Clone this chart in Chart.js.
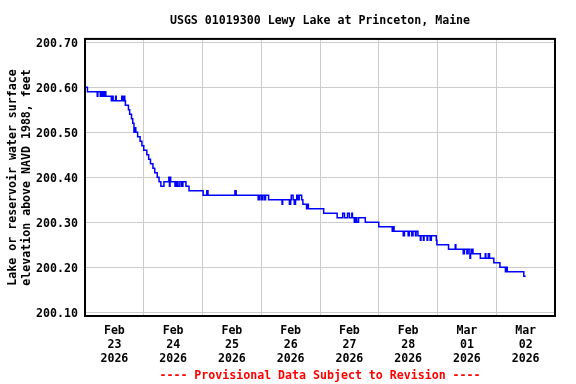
<!DOCTYPE html>
<html>
<head>
<meta charset="utf-8">
<script src="https://cdn.jsdelivr.net/npm/chart.js@4.4.1/dist/chart.umd.min.js"></script>
<style>
  html, body { margin: 0; padding: 0; background: #fff; }
  #wrap { width: 576px; height: 384px; }
</style>
</head>
<body>
<div id="wrap"><canvas id="lakeChart" width="576" height="384"></canvas></div>
<script>
// hours since Feb 23 2026 00:00, and lake level (feet, NAVD 1988)
const hours = [
  0, 1, 5, 5.25, 6.25, 6.5, 7, 7.25, 7.5, 7.75, 8, 8.25, 8.5, 10.75, 11.25, 11.5, 12.5, 12.75,
  15, 15.5, 15.75, 16.25, 16.5, 17.75, 18.25, 19, 19.5, 20, 20.5, 20.75, 21.5, 22.5, 23.25, 24,
  25.25, 26, 26.75, 27.75, 28.5, 29.5, 30.25, 31, 32.25, 34.25, 34.5, 34.75, 35, 36.75, 37, 37.5,
  37.75, 38, 38.75, 39.5, 40, 41.25, 42.5, 48.25, 49.75, 50.25, 61.25, 61.75, 70.75, 71.25, 72,
  72.5, 73.25, 73.75, 75, 80.5, 80.75, 83.5, 84, 84.25, 85, 85.5, 86, 86.5, 87, 87.5, 88.5, 89,
  90.5, 91, 91.25, 97.5, 103, 105.25, 106, 107.25, 108, 109, 109.25, 110, 110.5, 111, 111.75,
  114.5, 120, 125.5, 126, 126.25, 130, 130.5, 132, 132.5, 133.5, 134, 135, 135.25, 136, 137,
  137.25, 138.25, 138.5, 139.75, 140, 141, 141.5, 143.5, 143.75, 148.5, 151.25, 151.5, 154.5,
  155, 156, 156.5, 157.25, 157.5, 158, 158.5, 161.5, 163.5, 163.75, 164.75, 165.25, 167, 169.5,
  171.75, 172, 172.5, 179.25, 180
];
const levels = [
  200.60, 200.59, 200.58, 200.59, 200.58, 200.59, 200.58, 200.59, 200.58, 200.59, 200.58, 200.59, 200.58, 200.57, 200.58, 200.57, 200.58, 200.57,
  200.58, 200.57, 200.58, 200.57, 200.56, 200.55, 200.54, 200.53, 200.52, 200.50, 200.51, 200.50, 200.49, 200.48, 200.47, 200.46,
  200.45, 200.44, 200.43, 200.42, 200.41, 200.40, 200.39, 200.38, 200.39, 200.40, 200.38, 200.40, 200.39, 200.38, 200.39, 200.38,
  200.39, 200.38, 200.39, 200.38, 200.39, 200.38, 200.37, 200.36, 200.37, 200.36, 200.37, 200.36, 200.35, 200.36, 200.35,
  200.36, 200.35, 200.36, 200.35, 200.34, 200.35, 200.34, 200.35, 200.36, 200.35, 200.34, 200.35, 200.36, 200.35, 200.36, 200.35, 200.34,
  200.33, 200.34, 200.33, 200.32, 200.31, 200.32, 200.31, 200.32, 200.31, 200.32, 200.31, 200.30, 200.31, 200.30, 200.31,
  200.30, 200.29, 200.28, 200.29, 200.28, 200.27, 200.28, 200.27, 200.28, 200.27, 200.28, 200.27, 200.28, 200.27, 200.26,
  200.27, 200.26, 200.27, 200.26, 200.27, 200.26, 200.27, 200.26, 200.25, 200.24, 200.25, 200.24, 200.23,
  200.24, 200.23, 200.24, 200.22, 200.23, 200.24, 200.23, 200.22, 200.23, 200.22, 200.23, 200.22, 200.21, 200.20,
  200.19, 200.20, 200.19, 200.18, 200.18
];

const yTicks = [200.10, 200.20, 200.30, 200.40, 200.50, 200.60, 200.70];
const dayStarts = [0, 24, 48, 72, 96, 120, 144, 168, 192];
const dayLabels = [
  ['Feb', '23', '2026'], ['Feb', '24', '2026'], ['Feb', '25', '2026'], ['Feb', '26', '2026'],
  ['Feb', '27', '2026'], ['Feb', '28', '2026'], ['Mar', '01', '2026'], ['Mar', '02', '2026']
];

const monoBold = { family: '"DejaVu Sans Mono", monospace', size: 11.6, weight: 'bold', lineHeight: 1.2 };

// black frame round the plot area
const frame = {
  id: 'frame',
  afterDraw(chart) {
    const a = chart.chartArea;
    const ctx = chart.ctx;
    ctx.save();
    ctx.strokeStyle = '#000';
    ctx.lineWidth = 2;
    ctx.strokeRect(a.left, a.top, a.right - a.left, a.bottom - a.top);
    ctx.restore();
  }
};

const points = hours.map((h, i) => ({ x: h, y: levels[i] }));

new Chart(document.getElementById('lakeChart'), {
  type: 'line',
  data: {
    datasets: [{
      data: points,
      borderColor: '#0000ff',
      borderWidth: 1.5,
      pointRadius: 0,
      stepped: true,
      fill: false
    }]
  },
  options: {
    responsive: false,
    animation: false,
    layout: { padding: { left: 0, right: 21, top: 0, bottom: 0 } },
    plugins: {
      legend: { display: false },
      tooltip: { enabled: false },
      title: {
        display: true,
        fullSize: false,
        text: 'USGS 01019300 Lewy Lake at Princeton, Maine',
        color: '#000',
        font: monoBold,
        padding: { top: 14, bottom: 11 }
      }
    },
    scales: {
      x: {
        type: 'linear',
        min: 0,
        max: 192,
        afterBuildTicks(scale) {
          const t = [];
          dayStarts.forEach((d, i) => {
            t.push({ value: d });
            if (i < dayLabels.length) t.push({ value: d + 12 });
          });
          scale.ticks = t;
        },
        afterFit(scale) { scale.height = 68; },
        border: { display: false },
        grid: {
          drawTicks: false,
          color: (c) => (c.tick && c.tick.value % 24 === 0) ? '#cccccc' : 'rgba(0,0,0,0)',
          lineWidth: 1
        },
        ticks: {
          padding: 8,
          maxRotation: 0,
          autoSkip: false,
          color: '#000',
          font: monoBold,
          callback: (v) => (v % 24 === 12) ? dayLabels[(v - 12) / 24] : ''
        },
        title: {
          display: true,
          text: '---- Provisional Data Subject to Revision ----',
          color: '#ff0000',
          font: monoBold,
          padding: { top: 0, bottom: 1 }
        }
      },
      y: {
        min: 200.092,
        max: 200.7073,
        afterBuildTicks(scale) { scale.ticks = yTicks.map(v => ({ value: v })); },
        afterFit(scale) { scale.width = 85; },
        border: { display: false },
        grid: { drawTicks: false, color: '#cccccc', lineWidth: 1 },
        ticks: {
          padding: 7,
          labelOffset: 2,
          color: '#000',
          font: monoBold,
          callback: (v) => v.toFixed(2)
        },
        title: {
          display: true,
          text: ['Lake or reservoir water surface', 'elevation above NAVD 1988, feet'],
          color: '#000',
          font: monoBold,
          padding: { top: 6, bottom: 0 }
        }
      }
    }
  },
  plugins: [frame]
});
</script>
</body>
</html>
